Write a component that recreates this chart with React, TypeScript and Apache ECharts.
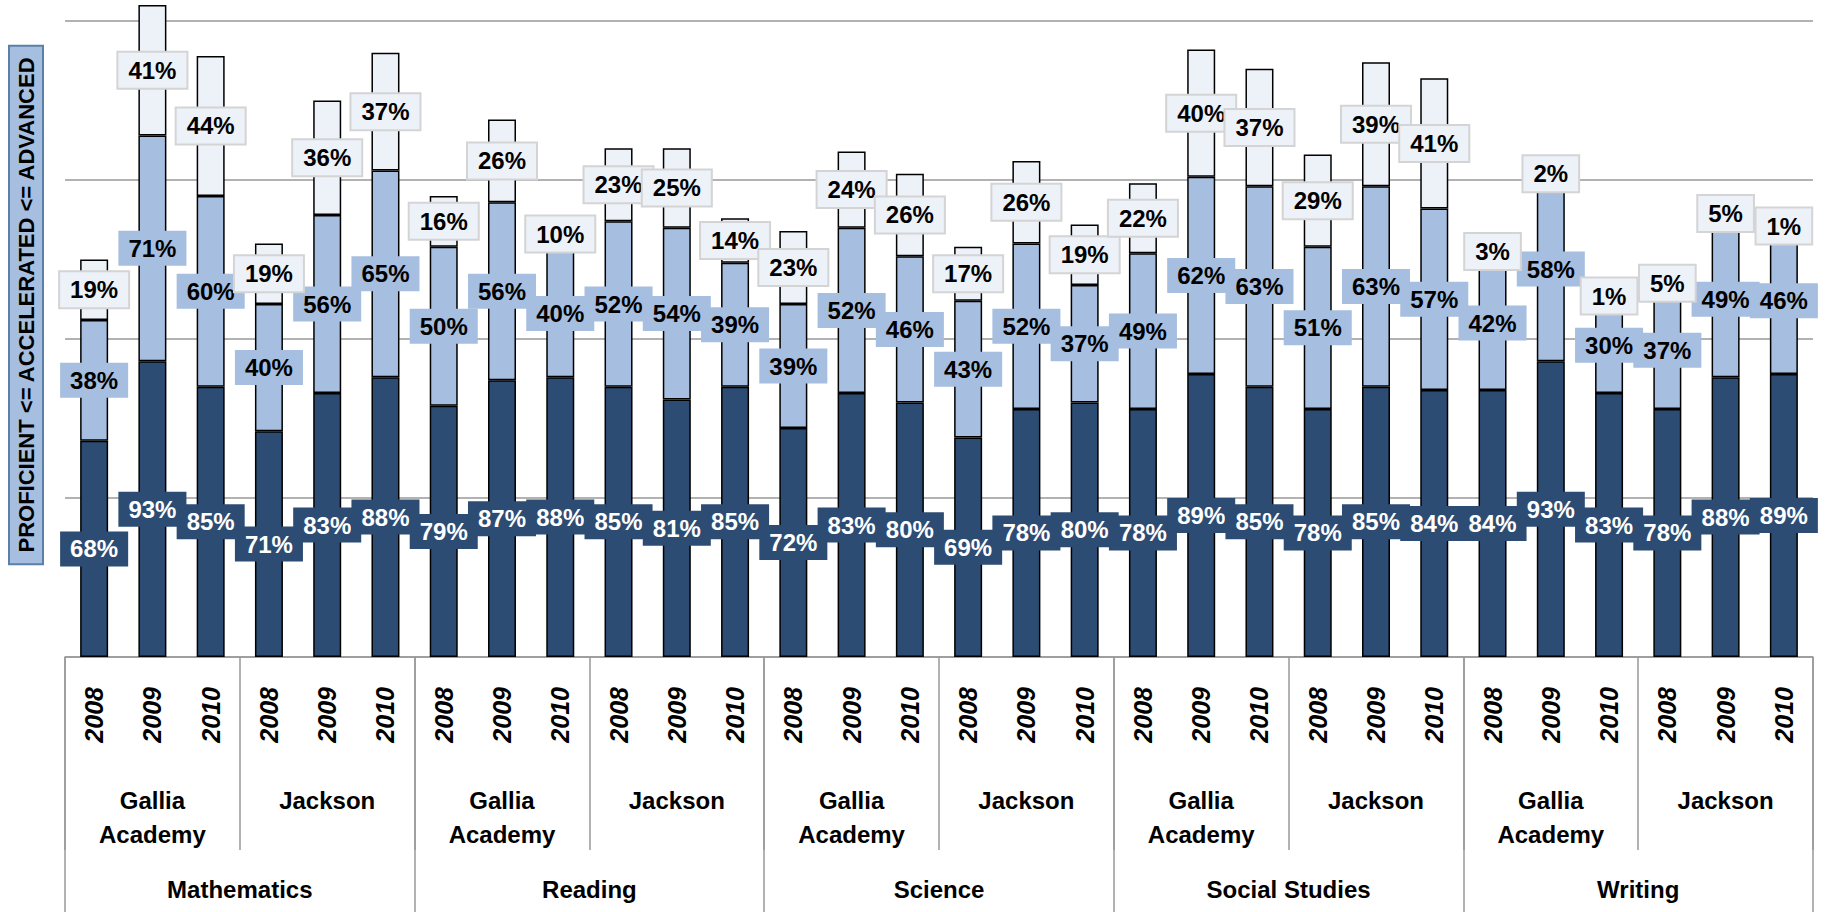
import { useEffect, useRef } from 'react';
import * as echarts from 'echarts';

const years = ['2008', '2009', '2010'];
const schools = ['Gallia\nAcademy', 'Jackson'];
const subjects = ['Mathematics', 'Reading', 'Science', 'Social Studies', 'Writing'];

// per bar: subject x school x year
const proficient = [68, 93, 85, 71, 83, 88, 79, 87, 88, 85, 81, 85, 72, 83, 80, 69, 78, 80, 78, 89, 85, 78, 85, 84, 84, 93, 83, 78, 88, 89];
const accelerated = [38, 71, 60, 40, 56, 65, 50, 56, 40, 52, 54, 39, 39, 52, 46, 43, 52, 37, 49, 62, 63, 51, 63, 57, 42, 58, 30, 37, 49, 46];
const advanced = [19, 41, 44, 19, 36, 37, 16, 26, 10, 23, 25, 14, 23, 24, 26, 17, 26, 19, 22, 40, 37, 29, 39, 41, 3, 2, 1, 5, 5, 1];

const DARK = '#2d4c73';
const MID = '#a6bedf';
const LIGHT = '#edf1f8';
const FONT = 'Liberation Sans, Arial, sans-serif';

export default function App() {
  const elRef = useRef<HTMLDivElement | null>(null);

  useEffect(() => {
    document.body.style.margin = '0';
    if (!elRef.current) return;
    const chart = echarts.init(elRef.current, undefined, { renderer: 'svg' });

    const yearCats: string[] = [];
    const schoolCats: string[] = [];
    subjects.forEach((s, si) => {
      schools.forEach((sc) => {
        schoolCats.push(sc + '\u200b'.repeat(si));
        years.forEach((y) => yearCats.push(y));
      });
    });

    const labelBase = {
      show: true,
      position: 'inside' as const,
      fontFamily: FONT,
      fontWeight: 'bold' as const,
      fontSize: 24,
      padding: [6, 10, 5, 10],
      formatter: '{c}%',
    };

    const mkSeries = (name: string, data: number[], color: string, label: any) => ({
      name,
      type: 'bar',
      stack: 'total',
      xAxisIndex: 0,
      data,
      barWidth: 28,
      clip: false,
      itemStyle: { color, borderColor: '#000', borderWidth: 1.5 },
      label: { ...labelBase, ...label },
    });

    chart.setOption({
      animation: false,
      grid: { left: 65, right: 24, top: 21, bottom: 255 },
      yAxis: {
        type: 'value',
        min: 0,
        max: 200,
        interval: 50,
        axisLabel: { show: false },
        axisLine: { show: false },
        axisTick: { show: false },
        splitLine: { lineStyle: { color: '#999', width: 1.5 } },
      },
      xAxis: [
        {
          type: 'category',
          data: yearCats,
          position: 'bottom',
          axisLine: { lineStyle: { color: '#999', width: 1.5 } },
          axisTick: { show: false },
          axisLabel: {
            interval: 0,
            rotate: 90,
            margin: 30,
            fontFamily: FONT,
            fontWeight: 'bold',
            fontStyle: 'italic',
            fontSize: 25,
            color: '#000',
          },
        },
        {
          type: 'category',
          data: schoolCats,
          position: 'bottom',
          axisLine: { show: false },
          axisTick: { show: true, length: 193, interval: 0, lineStyle: { color: '#999', width: 1.5 } },
          axisLabel: {
            interval: 0,
            margin: 126,
            verticalAlign: 'top',
            lineHeight: 34,
            fontFamily: FONT,
            fontWeight: 'bold',
            fontSize: 24,
            color: '#000',
            formatter: (v: string) => v.replace(/\u200b/g, ''),
          },
        },
        {
          type: 'category',
          data: subjects,
          position: 'bottom',
          axisLine: { show: false },
          axisTick: { show: true, length: 255, interval: 0, lineStyle: { color: '#999', width: 1.5 } },
          axisLabel: {
            interval: 0,
            margin: 220,
            verticalAlign: 'top',
            fontFamily: FONT,
            fontWeight: 'bold',
            fontSize: 24,
            color: '#000',
          },
        },
      ],
      graphic: [
        {
          type: 'text',
          x: 26,
          y: 305,
          rotation: Math.PI / 2,
          style: {
            text: 'PROFICIENT <= ACCELERATED <= ADVANCED',
            font: `bold 22px ${FONT}`,
            fill: '#000',
            align: 'center',
            verticalAlign: 'middle',
            backgroundColor: MID,
            borderColor: '#5a7fa8',
            borderWidth: 2,
            padding: [6, 10, 4, 10],
          },
        },
      ],
      series: [
        mkSeries('Proficient', proficient, DARK, { color: '#fff', backgroundColor: DARK }),
        mkSeries('Accelerated', accelerated, MID, { color: '#000', backgroundColor: MID }),
        mkSeries('Advanced', advanced, LIGHT, {
          color: '#000',
          backgroundColor: LIGHT,
          borderColor: '#d4d4d4',
          borderWidth: 2,
        }),
      ],
      labelLayout: { moveOverlap: 'shiftY' },
    });

    return () => chart.dispose();
  }, []);

  return <div ref={elRef} style={{ width: 1837, height: 912 }} />;
}
